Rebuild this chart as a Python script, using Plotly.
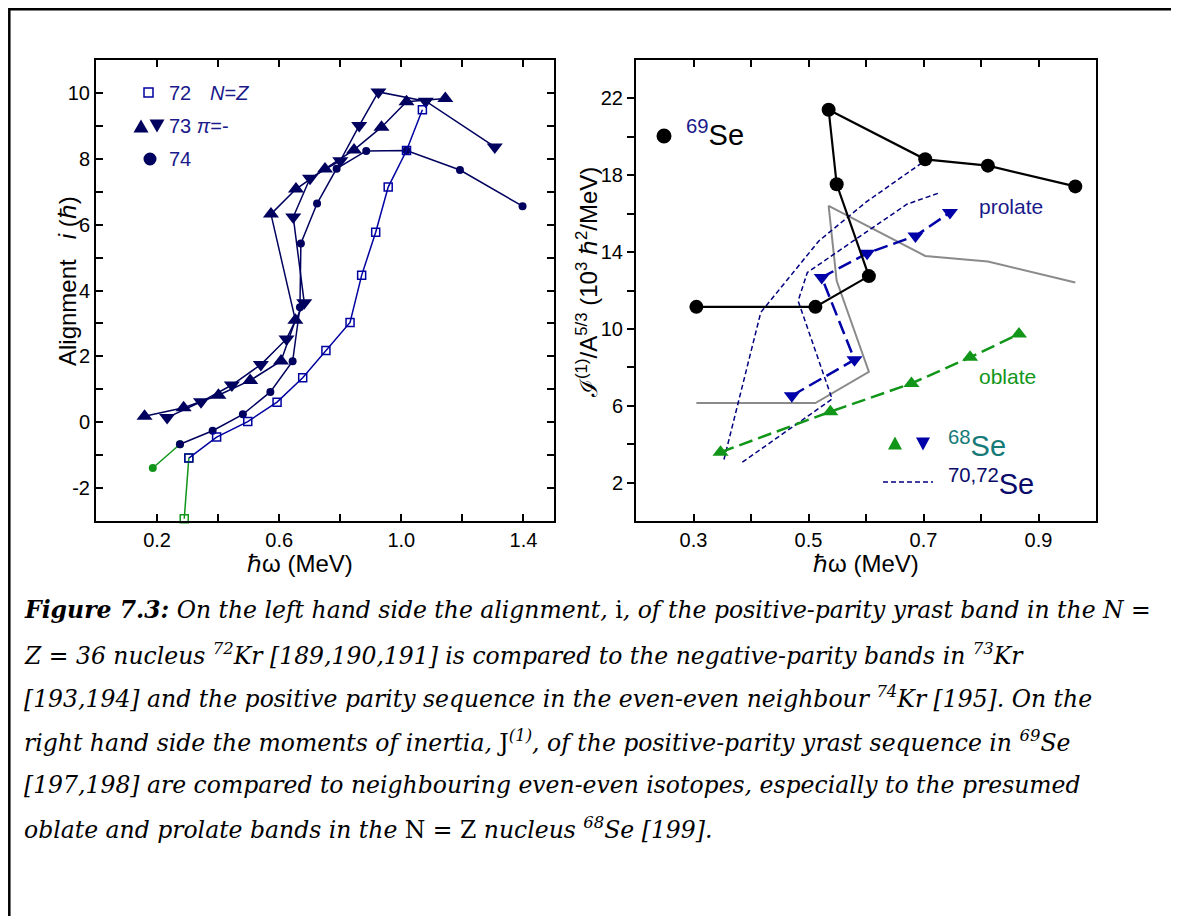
import plotly.graph_objects as go

# page body has an 8px margin: figure is sized/offset so that it fills the window
OFF = 8
W, H = 1179 - OFF, 916 - OFF

# ---------------- Left panel data (Kr isotopes, alignment) ----------------
kr72_x = [0.289, 0.304, 0.395, 0.497, 0.593, 0.677, 0.753, 0.832, 0.870, 0.916, 0.957, 1.017, 1.069]
kr72_y = [-2.93, -1.09, -0.45, 0.02, 0.61, 1.35, 2.18, 3.03, 4.46, 5.77, 7.14, 8.25, 9.49]

kr74_x = [0.186, 0.275, 0.382, 0.481, 0.571, 0.644, 0.668, 0.671, 0.724, 0.788, 0.885, 1.017, 1.192, 1.397]
kr74_y = [-1.39, -0.67, -0.26, 0.24, 0.92, 1.85, 3.49, 5.43, 6.64, 7.70, 8.24, 8.25, 7.66, 6.56]

kr73a_x = [0.159, 0.287, 0.401, 0.505, 0.606, 0.653, 0.573, 0.655, 0.750, 0.845, 0.935, 1.017, 1.144]
kr73a_y = [0.18, 0.44, 0.82, 1.27, 1.86, 3.10, 6.32, 7.08, 7.69, 8.27, 8.96, 9.73, 9.83]

kr73b_x = [0.233, 0.344, 0.445, 0.540, 0.624, 0.682, 0.646, 0.701, 0.800, 0.862, 0.925, 1.080, 1.306]
kr73b_y = [0.14, 0.62, 1.13, 1.75, 2.53, 3.63, 6.23, 7.41, 7.94, 9.01, 10.03, 9.75, 8.36]

left_xticks = [0.2, 0.4, 0.6, 0.8, 1.0, 1.2, 1.4]
left_xlabels = ["0.2", "", "0.6", "", "1.0", "", "1.4"]
left_yticks = list(range(-3, 12))
left_ylabels = [str(v) if v % 2 == 0 else "" for v in left_yticks]

# ---------------- Right panel data (Se isotopes, moment of inertia) ----------------
se69_x = [0.305, 0.512, 0.605, 0.549, 0.535, 0.703, 0.812, 0.964]
se69_y = [11.15, 11.15, 12.75, 17.53, 21.41, 18.83, 18.50, 17.42]

gray_y = [6.14, 6.14, 7.77, 12.50, 16.40, 13.80, 13.51, 12.42]

pro_x = [0.471, 0.580, 0.523, 0.602, 0.686, 0.746]
pro_y = [6.52, 8.40, 12.68, 13.94, 14.84, 16.06]

obl_x = [0.347, 0.538, 0.679, 0.781, 0.866]
obl_y = [3.58, 5.69, 7.16, 8.52, 9.73]

se70_x = [0.353, 0.417, 0.518, 0.600, 0.706]
se70_y = [3.20, 10.86, 14.58, 16.60, 18.83]

se72_x = [0.385, 0.541, 0.482, 0.498, 0.671, 0.729]
se72_y = [3.06, 6.35, 11.46, 12.94, 16.49, 17.10]

right_xticks = [0.3, 0.4, 0.5, 0.6, 0.7, 0.8, 0.9]
right_xlabels = ["0.3", "", "0.5", "", "0.7", "", "0.9"]
right_yticks = list(range(2, 24, 2))
right_ylabels = [str(v) if v % 4 == 2 else "" for v in right_yticks]

NAVY = "#00005e"
BLUE = "#0000a0"
GREEN = "#11961a"
GRAY = "#8a8a8a"
TEAL = "#167a78"
PBLUE = "#0000a8"
LEG = "#1a1a8a"


def PX(xp):
    return (xp - OFF) / W


def PY(yp):
    return 1 - (yp - OFF) / H


fig = go.Figure()

# Left panel traces
fig.add_trace(go.Scatter(x=kr74_x[:2], y=kr74_y[:2], mode="lines+markers", xaxis="x", yaxis="y",
                         line=dict(color=GREEN, width=1.5), marker=dict(symbol="circle", size=8, color=GREEN)))
fig.add_trace(go.Scatter(x=kr74_x[1:], y=kr74_y[1:], mode="lines+markers", xaxis="x", yaxis="y",
                         line=dict(color=NAVY, width=1.5), marker=dict(symbol="circle", size=8, color=NAVY)))
fig.add_trace(go.Scatter(x=kr73a_x, y=kr73a_y, mode="lines+markers", xaxis="x", yaxis="y",
                         line=dict(color=NAVY, width=1.5), marker=dict(symbol="triangle-up", size=14, color=NAVY)))
fig.add_trace(go.Scatter(x=kr73b_x, y=kr73b_y, mode="lines+markers", xaxis="x", yaxis="y",
                         line=dict(color=NAVY, width=1.5), marker=dict(symbol="triangle-down", size=14, color=NAVY)))
fig.add_trace(go.Scatter(x=kr72_x[:2], y=kr72_y[:2], mode="lines+markers", xaxis="x", yaxis="y", cliponaxis=False,
                         line=dict(color=GREEN, width=1.5),
                         marker=dict(symbol="square-open", size=8, color=GREEN, line=dict(width=1.5))))
fig.add_trace(go.Scatter(x=kr72_x[1:], y=kr72_y[1:], mode="lines+markers", xaxis="x", yaxis="y",
                         line=dict(color=BLUE, width=1.5),
                         marker=dict(symbol="square-open", size=8, color=BLUE, line=dict(width=1.5))))

# Right panel traces
fig.add_trace(go.Scatter(x=se69_x, y=gray_y, mode="lines", xaxis="x2", yaxis="y2",
                         line=dict(color=GRAY, width=2)))
fig.add_trace(go.Scatter(x=se70_x, y=se70_y, mode="lines", xaxis="x2", yaxis="y2",
                         line=dict(color="#000080", width=1.5, dash="5px,3px")))
fig.add_trace(go.Scatter(x=se72_x, y=se72_y, mode="lines", xaxis="x2", yaxis="y2",
                         line=dict(color="#000080", width=1.5, dash="5px,3px")))
fig.add_trace(go.Scatter(x=obl_x, y=obl_y, mode="lines+markers", xaxis="x2", yaxis="y2",
                         line=dict(color=GREEN, width=2.5, dash="14px,6px"),
                         marker=dict(symbol="triangle-up", size=14, color=GREEN)))
fig.add_trace(go.Scatter(x=pro_x, y=pro_y, mode="lines+markers", xaxis="x2", yaxis="y2",
                         line=dict(color=PBLUE, width=2.5, dash="14px,6px"),
                         marker=dict(symbol="triangle-down", size=14, color=PBLUE)))
fig.add_trace(go.Scatter(x=se69_x, y=se69_y, mode="lines+markers", xaxis="x2", yaxis="y2",
                         line=dict(color="black", width=2.2),
                         marker=dict(symbol="circle", size=14, color="black")))

TICKFONT = dict(family="Liberation Sans, Arial, sans-serif", size=20, color="black")
axis_common = dict(showline=True, linecolor="black", linewidth=2, mirror="allticks", showgrid=False,
                   zeroline=False, tickmode="array", ticks="inside", tickcolor="black", tickwidth=2,
                   ticklen=7, tickfont=TICKFONT)

fig.update_layout(
    width=W, height=H, margin=dict(l=0, r=0, t=0, b=0),
    paper_bgcolor="white", plot_bgcolor="white", showlegend=False,
    xaxis=dict(domain=[PX(96), PX(554)], range=[0, 1.5], anchor="y",
               tickvals=left_xticks, ticktext=left_xlabels, **axis_common),
    yaxis=dict(domain=[PY(521), PY(60)], range=[-3, 11], anchor="x",
               tickvals=left_yticks, ticktext=left_ylabels, **axis_common),
    xaxis2=dict(domain=[PX(636), PX(1096)], range=[0.2, 1.0], anchor="y2",
                tickvals=right_xticks, ticktext=right_xlabels, **axis_common),
    yaxis2=dict(domain=[PY(521), PY(60)], range=[0, 24], anchor="x2",
                tickvals=right_yticks, ticktext=right_ylabels, **axis_common),
)
fig.layout.yaxis2.ticks = "outside"
fig.layout.yaxis2.mirror = True

annotations = []


def add_text(text, xp, yp, size, color="black", xanchor="left", family="Liberation Sans, Arial, sans-serif",
             textangle=0):
    annotations.append(dict(text=text, x=PX(xp), y=PY(yp), xref="paper", yref="paper", showarrow=False,
                            xanchor=xanchor, yanchor="middle", textangle=textangle,
                            font=dict(family=family, size=size, color=color)))


# Left legend texts
add_text("72", 167, 93, 20, LEG)
add_text("<i>N</i>=<i>Z</i>", 208, 93, 20, LEG)
add_text("73 <i>π</i>=-", 167, 126, 20, LEG)
add_text("74", 167, 159, 20, LEG)

# Left axis titles
add_text("Alignment   <i>i</i> (ℏ)", 67, 281, 24, "black", "center", textangle=-90)
add_text("ℏω (MeV)", 300, 563, 24, "black", "center")

# Right legend/labels
add_text("<span style='color:#1a1a8a'><sup>69</sup></span>Se", 684, 133, 29, "black")
add_text("prolate", 1011, 207, 21, LEG, "center")
add_text("oblate", 1008, 376, 21, GREEN, "center")
add_text("<sup>68</sup>Se", 946, 444, 29, TEAL)
add_text("<sup>70,72</sup>Se", 946, 482, 29, "#0a0a6a")

# Right axis titles
add_text("ℐ<sup>(1)</sup>/A<sup>5/3</sup> (10<sup>3</sup> ℏ<sup>2</sup>/MeV)", 587, 283, 24, "black", "center",
         textangle=-90)
add_text("ℏω (MeV)", 866, 563, 24, "black", "center")

# Caption
SERIF = "DejaVu Serif, serif"
caption_lines = [
    "<b><i>Figure 7.3:</i></b><i> On the left hand side the alignment, </i>i<i>, of the positive-parity yrast band in the N =</i>",
    "<i>Z = 36 nucleus <sup>72</sup>Kr [189,190,191] is compared to the negative-parity bands in <sup>73</sup>Kr</i>",
    "<i>[193,194] and the positive parity sequence in the even-even neighbour <sup>74</sup>Kr [195]. On the</i>",
    "<i>right hand side the moments of inertia, </i>J<i><sup>(1)</sup>, of the positive-parity yrast sequence in <sup>69</sup>Se</i>",
    "<i>[197,198] are compared to neighbouring even-even isotopes, especially to the presumed</i>",
    "<i>oblate and prolate bands in the </i>N = Z<i> nucleus <sup>68</sup>Se [199].</i>",
]
caption_y = [610, 654, 697, 741, 785, 828]
for t, yp in zip(caption_lines, caption_y):
    add_text(t, 22, yp, 23.5, "black", "left", SERIF)

fig.update_layout(annotations=annotations)

shapes = []
# Outer frame
shapes.append(dict(type="rect", xref="paper", yref="paper", x0=PX(9.3), x1=PX(1173), y0=-0.05, y1=PY(9.3),
                   line=dict(color="black", width=2.5)))
# dashed legend sample
shapes.append(dict(type="line", xref="paper", yref="paper", x0=PX(883), x1=PX(933), y0=PY(482), y1=PY(482),
                   line=dict(color="#000080", width=1.5, dash="5px,3px")))


def tri(cx, cy, w, h, up, color):
    if up:
        pts = [(cx - w / 2, cy + h / 2), (cx + w / 2, cy + h / 2), (cx, cy - h / 2)]
    else:
        pts = [(cx - w / 2, cy - h / 2), (cx + w / 2, cy - h / 2), (cx, cy + h / 2)]
    path = "M " + " L ".join(f"{PX(a):.5f},{PY(b):.5f}" for a, b in pts) + " Z"
    return dict(type="path", xref="paper", yref="paper", path=path, fillcolor=color, line=dict(width=0))


def circ(cx, cy, r, color):
    return dict(type="circle", xref="paper", yref="paper", x0=PX(cx - r), x1=PX(cx + r),
                y0=PY(cy + r), y1=PY(cy - r), fillcolor=color, line=dict(width=0))


# Left legend symbols
shapes.append(dict(type="rect", xref="paper", yref="paper", x0=PX(144), x1=PX(153), y0=PY(97), y1=PY(88),
                   line=dict(color=BLUE, width=1.5)))
shapes.append(tri(141, 126, 15, 13, True, NAVY))
shapes.append(tri(157, 126, 15, 13, False, NAVY))
shapes.append(circ(150, 159, 6.5, NAVY))
# Right legend symbols
shapes.append(circ(664, 136, 7.5, "black"))
shapes.append(tri(895, 443, 14, 13, True, GREEN))
shapes.append(tri(923, 444, 14, 13, False, PBLUE))

fig.update_layout(shapes=shapes)

fig.write_html("out.html")
